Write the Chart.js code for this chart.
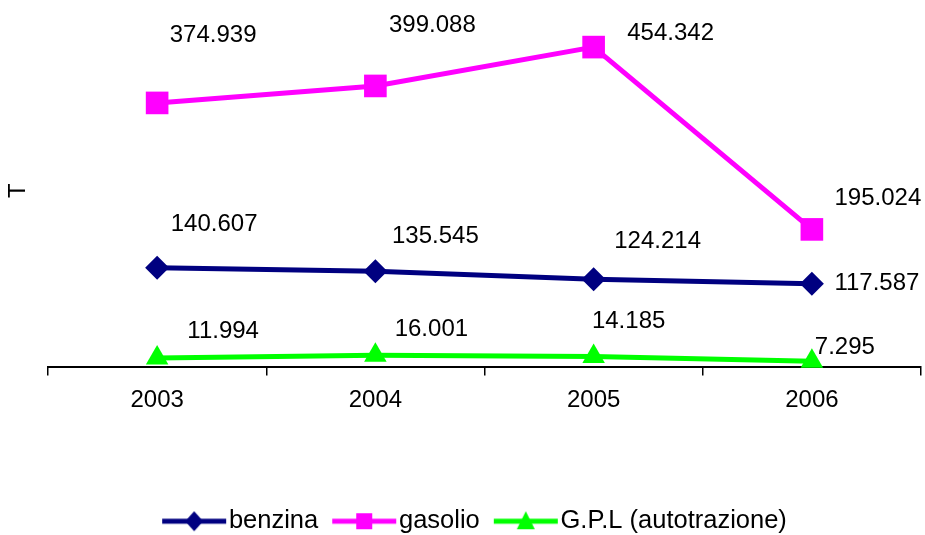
<!DOCTYPE html>
<html>
<head>
<meta charset="utf-8">
<script src="https://cdn.jsdelivr.net/npm/chart.js@4/dist/chart.umd.min.js"></script>
<style>
  html, body { margin: 0; padding: 0; background: #fff; }
  #wrap { width: 925px; height: 535px; position: relative; }
</style>
</head>
<body>
<div id="wrap"><canvas id="c" width="925" height="535"></canvas></div>
<script>
const categories = ['2003', '2004', '2005', '2006'];
const benzina = [140.607, 135.545, 124.214, 117.587];
const gasolio = [374.939, 399.088, 454.342, 195.024];
const gpl = [11.994, 16.001, 14.185, 7.295];
const seriesNames = ['benzina', 'gasolio', 'G.P.L (autotrazione)'];
const yAxisTitle = 'T';

const FONT = 'Liberation Sans, Arial, sans-serif';
const colors = ['#000080', '#FF00FF', '#00FF00'];
const styles = ['rectRot', 'rect', 'triangle'];
const radii = [12, 16, 13];

// label offsets (pixels, relative to point) — styling only
const labelOffsets = [
  [[57, -43], [60, -35], [64, -38], [65, 0]],
  [[56, -68], [57, -61], [77, -14], [66, -31]],
  [[66, -27], [56, -26], [35, -35], [33, -14]]
];

function legendImage(i) {
  const cv = document.createElement('canvas');
  cv.width = 66; cv.height = 26;
  const g = cv.getContext('2d');
  g.strokeStyle = colors[i]; g.fillStyle = colors[i];
  g.lineWidth = 5;
  g.beginPath(); g.moveTo(1, 13); g.lineTo(65, 13); g.stroke();
  g.beginPath();
  if (i === 0) { g.moveTo(33, 3); g.lineTo(42, 13); g.lineTo(33, 23); g.lineTo(24, 13); }
  else if (i === 1) { g.rect(25, 5, 16, 16); }
  else { g.moveTo(33, 3); g.lineTo(42, 21); g.lineTo(24, 21); }
  g.closePath(); g.fill();
  return cv;
}

const valueLabels = {
  id: 'valueLabels',
  afterLayout(chart) {
    if (chart.legend) {
      chart.legend.top += 9; chart.legend.bottom += 9;
      chart.legend.left += 19; chart.legend.right += 19;
    }
  },
  afterDatasetsDraw(chart) {
    const ctx = chart.ctx;
    ctx.save();
    ctx.font = '24px ' + FONT;
    ctx.fillStyle = '#000';
    ctx.textAlign = 'center';
    ctx.textBaseline = 'middle';
    chart.data.datasets.forEach((ds, di) => {
      const meta = chart.getDatasetMeta(di);
      meta.data.forEach((pt, i) => {
        const off = labelOffsets[di][i];
        ctx.fillText(ds.data[i].toFixed(3), pt.x + off[0], pt.y + off[1]);
      });
    });
    ctx.restore();
  }
};

const seriesData = [benzina, gasolio, gpl];
const datasets = seriesData.map((d, i) => ({
  label: seriesNames[i],
  data: d,
  borderColor: colors[i],
  backgroundColor: colors[i],
  borderWidth: 5,
  pointStyle: styles[i],
  pointRadius: radii[i],
  pointHoverRadius: radii[i],
  pointBorderWidth: 0,
  tension: 0,
  fill: false,
  clip: false
}));

new Chart(document.getElementById('c'), {
  type: 'line',
  data: { labels: categories, datasets },
  options: {
    responsive: false,
    animation: false,
    events: [],
    layout: { autoPadding: false, padding: { left: 0, right: 4, top: 15, bottom: 0 } },
    plugins: {
      tooltip: { enabled: false },
      legend: {
        position: 'bottom',
        labels: {
          usePointStyle: true,
          pointStyleWidth: 44,
          boxHeight: 24,
          padding: 24,
          color: '#000',
          font: { size: 25.5, family: FONT },
          generateLabels(chart) {
            return chart.data.datasets.map((ds, i) => ({
              text: ds.label,
              pointStyle: legendImage(i),
              fillStyle: colors[i],
              strokeStyle: colors[i],
              lineWidth: 0,
              hidden: false,
              datasetIndex: i,
              fontColor: '#000'
            }));
          }
        }
      }
    },
    scales: {
      x: {
        offset: true,
        grid: { display: true, drawOnChartArea: false, offset: true, color: '#000', tickLength: 9, lineWidth: 1.5 },
        border: { display: true, color: '#000', width: 2 },
        ticks: { color: '#000', font: { size: 24, family: FONT }, padding: 10 },
        afterFit(s) { s.height = 109; }
      },
      y: {
        min: 0, max: 500,
        grid: { display: false },
        border: { display: false },
        ticks: { display: false },
        title: { display: true, text: yAxisTitle, color: '#000', font: { size: 24, family: FONT }, padding: { top: 4, bottom: 0 } },
        afterFit(s) { s.width = 48; }
      }
    }
  },
  plugins: [valueLabels]
});
</script>
</body>
</html>
